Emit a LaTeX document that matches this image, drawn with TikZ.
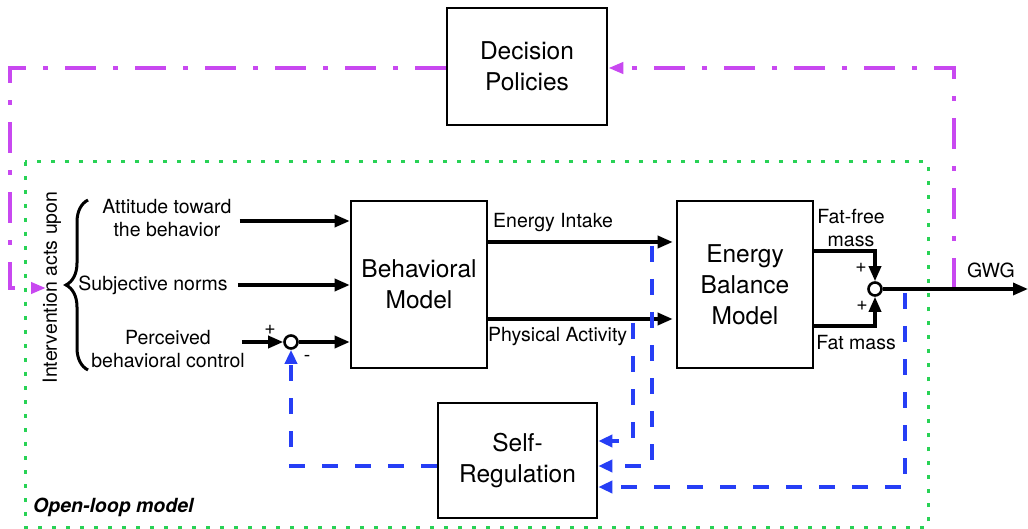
\documentclass[tikz,border=0pt]{standalone}
\usepackage{fontspec}
\setmainfont{TeX Gyre Heros}
\usetikzlibrary{arrows.meta,decorations.pathreplacing,calc}

\definecolor{fbblue}{RGB}{38,62,245}
\definecolor{polmag}{RGB}{200,72,240}
\definecolor{olgreen}{RGB}{40,210,85}

\begin{document}
\begin{tikzpicture}[x=1pt,y=-1pt,
  blk/.style={draw, line width=2.6pt, fill=white, align=center,
    font=\fontsize{24.5}{31}\selectfont, inner sep=0pt},
  lbl/.style={align=center, font=\fontsize{19.5}{23}\selectfont, inner sep=0pt},
  flow/.style={line width=3.3pt, -{Triangle[length=15pt,width=12pt]}},
  fb/.style={draw=fbblue, line width=4pt, dash pattern=on 16pt off 17pt,
    -{Triangle[length=14pt,width=12pt]}},
  pol/.style={draw=polmag, line width=3.8pt,
    dash pattern=on 31pt off 17pt on 5pt off 17pt,
    -{Triangle[length=15pt,width=11pt]}},
  sumnode/.style={circle, draw, line width=2.6pt, minimum size=13pt,
    inner sep=0pt, fill=white},
  openloop/.style={draw=olgreen, line width=3pt, dash pattern=on 4pt off 10pt},
]
\useasboundingbox (0,0) rectangle (1028,529);

% open-loop frame
\draw[openloop] (25,162) rectangle (928,527);
\node[lbl, anchor=west, font=\fontsize{19.5}{23}\selectfont\bfseries\itshape]
  (oll) at (33,507) {Open-loop model};

% blocks
\node[blk, minimum width=160pt, minimum height=117pt] (dp) at (527,66.5) {Decision\\Policies};
\node[blk, minimum width=136pt, minimum height=167pt] (bm) at (419,284.5) {Behavioral\\Model};
\node[blk, minimum width=136pt, minimum height=167pt] (ebm) at (745,284.5) {Energy\\Balance\\Model};
\node[blk, minimum width=159pt, minimum height=115pt] (sr) at (517.5,460.5) {Self-\\Regulation};

% inputs
\node[lbl] (att) at (167,218) {Attitude toward\\the behavior};
\node[lbl] (sn) at (153,285) {Subjective norms};
\node[lbl] (pbc) at (168,349) {Perceived\\behavioral control};
\node[lbl, rotate=90] (intv) at (52,287.5) {Intervention acts upon};
\draw[line width=3pt, decorate, decoration={brace, amplitude=22pt}] (88,370) -- (88,200);

% signal labels
\node[lbl, anchor=west] (eil) at (493,223) {Energy Intake};
\node[lbl, anchor=west] (pal) at (488,337) {Physical Activity};
\node[lbl] (ffl) at (851,228) {Fat-free\\mass};
\node[lbl] (fml) at (856,343) {Fat mass};
\node[lbl] (gwgl) at (991,270) {GWG};

% summing junctions
\node[sumnode] (s1) at (291,342) {};
\node[sumnode] (s2) at (875,289) {};
\node[lbl] (p1) at (270,330) {+};
\node[lbl] (m1) at (307,358) {-};
\node[lbl] (p2) at (861,268) {+};
\node[lbl] (p3) at (862,306) {+};

% signal levels
\coordinate (yA) at (0,221);
\coordinate (yS) at (0,285);
\coordinate (yEI) at (0,242);
\coordinate (yPA) at (0,319);
\coordinate (yFF) at (0,251);
\coordinate (yFM) at (0,326);
\coordinate (gwgend) at (1028,289);

% policy loop
\coordinate (pr) at (954,68);
\coordinate (pl) at (10,68);
\coordinate (pin) at (46,288);
\draw[pol] (s2 -| pr) -- (pr) -- (dp.east |- pr);
\draw[pol] (dp.west |- pl) -- (pl) |- (pin);

% forward path
\draw[flow, shorten <=8pt] (att.east |- yA) -- (bm.west |- yA);
\draw[flow, shorten <=10pt] (sn.east |- yS) -- (bm.west |- yS);
\draw[flow, shorten <=-3pt] (pbc.east |- s1) -- (s1.west);
\draw[flow] (s1.east) -- (bm.west |- s1);
\draw[flow, shorten >=3pt] (bm.east |- yEI) -- (ebm.west |- yEI);
\draw[flow, shorten >=3pt] (bm.east |- yPA) -- (ebm.west |- yPA);
\draw[flow] (ebm.east |- yFF) -| (s2.north);
\draw[flow] (ebm.east |- yFM) -| (s2.south);
\draw[flow] (s2.east) -- (gwgend);

% self-regulation feedback
\coordinate (xEI) at (652,0);
\coordinate (xPA) at (633,0);
\coordinate (xG) at (905,0);
\coordinate (r1) at (0,441);
\coordinate (r2) at (0,466);
\coordinate (r3) at (0,487);
\draw[fb] ($(xEI |- yEI)+(0,4)$) |- (sr.east |- r2);
\draw[fb] ($(xPA |- yPA)+(0,4)$) |- (sr.east |- r1);
\draw[fb] ($(xG |- s2)+(0,4)$) |- (sr.east |- r3);
\draw[fb] (sr.west |- r2) -| (s1.south);

\end{tikzpicture}
\end{document}
